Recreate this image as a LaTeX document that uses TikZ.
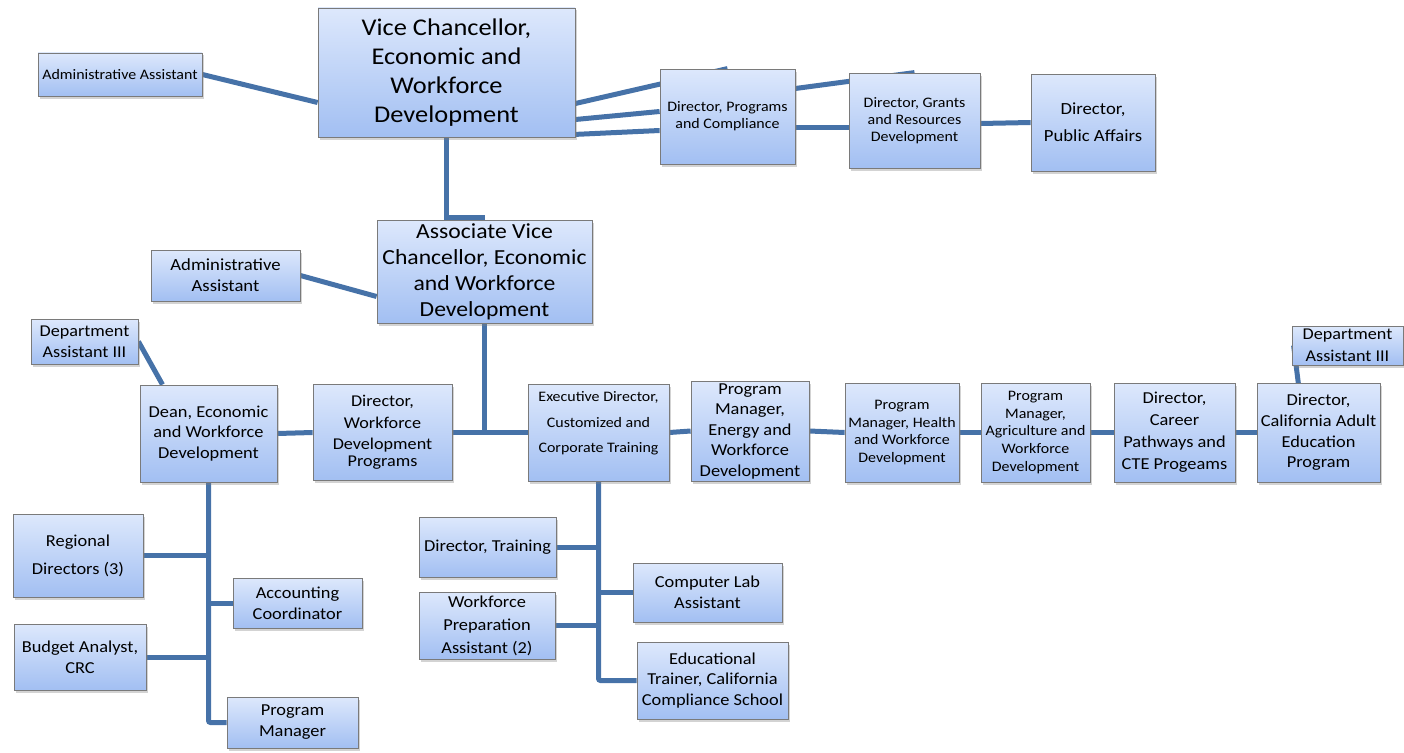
\documentclass[tikz,border=0pt]{standalone}
\usepackage{fontspec}
\setmainfont{Carlito}[FakeStretch=1.1]
\usetikzlibrary{shadows,backgrounds}
\definecolor{linkblue}{HTML}{4672A8}
\definecolor{boxtop}{HTML}{DDE8FC}
\definecolor{boxbot}{HTML}{A2BFF2}
\definecolor{boxline}{HTML}{7A7A7A}
\tikzset{
  box/.style={draw=boxline, line width=0.8pt, top color=boxtop, bottom color=boxbot,
    align=center, inner sep=0pt,
    drop shadow={shadow xshift=1.5pt, shadow yshift=-2.5pt, opacity=0.35}},
  sz/.style 2 args={minimum width=#1pt, minimum height=#2pt},
  fs/.style 2 args={font=\fontsize{#1}{#2}\selectfont},
  link/.style={draw=linkblue, line width=5pt}
}

\begin{document}
\begin{tikzpicture}[x=1pt,y=-1pt]
\path[use as bounding box] (0,0) rectangle (1404,752);

\node[box,sz={257}{129},fs={24}{29}] (vc) at (446.5,72.5) {Vice Chancellor,\\Economic and\\Workforce\\Development};
\node[box,sz={164}{43},fs={14.5}{17}] (aa1) at (120,74.5) {Administrative Assistant};
\node[box,sz={135}{95},fs={14.5}{17}] (dpc) at (727.5,116.5) {Director, Programs\\and Compliance};
\node[box,sz={131}{95},fs={14.5}{17}] (dgr) at (914.5,120.5) {Director, Grants\\and Resources\\Development};
\node[box,sz={124}{97},fs={17}{27}] (dpa) at (1093,122.5) {Director,\\Public Affairs};

\node[box,sz={215}{103},fs={21.5}{26}] (avc) at (484.5,271.5) {Associate Vice\\Chancellor, Economic\\and Workforce\\Development};
\node[box,sz={149}{51},fs={17}{21}] (aa2) at (225.5,275.5) {Administrative\\Assistant};

\node[box,sz={107}{45},fs={16.5}{21}] (dal) at (84.5,341.5) {Department\\Assistant III};
\node[box,sz={137}{97},fs={16.7}{20.5}] (dean) at (208.5,433.5) {Dean, Economic\\and Workforce\\Development};
\node[box,sz={139}{96},fs={16.5}{21.5}] (dwp) at (382.5,432.5) {Director,\\Workforce\\Development\\[-4.5pt]Programs};
\node[box,sz={141}{97},fs={14.5}{25.5}] (exd) at (598.5,432.5) {Executive Director,\\Customized and\\Corporate Training\\[-5pt]\mbox{}};
\node[box,sz={118}{100},fs={16.7}{20.5}] (pme) at (750,431) {Program\\Manager,\\Energy and\\Workforce\\Development};
\node[box,sz={114}{99},fs={14.5}{17.7}] (pmh) at (902,432.5) {Program\\Manager, Health\\and Workforce\\Development};
\node[box,sz={109}{99},fs={14.5}{17.7}] (pma) at (1035.5,432.5) {Program\\Manager,\\Agriculture and\\Workforce\\Development};
\node[box,sz={121}{99},fs={16.7}{22}] (dcp) at (1174.5,432.5) {Director,\\Career\\Pathways and\\CTE Progeams};
\node[box,sz={123}{99},fs={16.7}{20.7}] (cae) at (1318.5,432.5) {Director,\\California Adult\\Education\\Program};
\node[box,sz={111}{39},fs={16.5}{21.7}] (dar) at (1347.5,345.5) {Department\\Assistant III};

\node[box,sz={130}{83},fs={16.7}{28}] (rgd) at (78,555.5) {Regional\\Directors (3)};
\node[box,sz={129}{50},fs={16.7}{21}] (acc) at (297.5,603) {Accounting\\Coordinator};
\node[box,sz={132}{66},fs={16.7}{21}] (bud) at (80,657) {Budget Analyst,\\CRC};
\node[box,sz={131}{51},fs={16.7}{21}] (pgm) at (292.5,722.5) {Program\\Manager};

\node[box,sz={137}{60},fs={16.7}{21}] (dtr) at (487.5,547) {Director, Training};
\node[box,sz={136}{67},fs={16.7}{23}] (wpa) at (487,625.5) {Workforce\\Preparation\\Assistant (2)};
\node[box,sz={149}{59},fs={16.7}{21}] (cla) at (707.5,592.5) {Computer Lab\\Assistant};
\node[box,sz={151}{77},fs={16.7}{20.5}] (etr) at (712.5,680.5) {Educational\\Trainer, California\\Compliance School};

\begin{scope}[on background layer]
\draw[link] (vc.west) ++(0,30) -- (aa1.east);
\draw[link] (vc.south) |- ([yshift=2pt]avc.north);
\draw[link] (vc.east) ++(0,31) -- (dpc.north);
\draw[link] (vc.east) ++(0,47) -- ([yshift=5pt]dpc.west);
\draw[link] (dpc.west) ++(0,14) -- ([yshift=3pt]vc.south east);
\draw[link] (dpc.east) ++(0,-28) -- (dgr.north);
\draw[link] (dgr.west) ++(0,7) -- ([yshift=-11pt]dpc.east);
\draw[link] (dgr.east) ++(0,3) -- (dpa.west);
\draw[link] (avc.west) ++(0,25) -- (aa2.east);
\draw[link] (avc.south) -- (avc.south |- exd.west);
\draw[link] (dal.east) -- ([xshift=-46pt]dean.north);
\draw[link] (dean.east) -- (dwp.west);
\draw[link] (dwp.east) -- (exd.west);
\draw[link] (exd.east) -- (pme.west);
\draw[link] (pme.east) -- (pmh.west);
\draw[link] (pmh.east) -- (pma.west);
\draw[link] (pma.east) -- (dcp.west);
\draw[link] (dcp.east) -- (cae.west);
\draw[link] (cae.north) ++(-20,2) -- ([xshift=2pt]dar.west);
\draw[link,rounded corners=2pt] (dean.south) |- (pgm.west);
\draw[link] (rgd.east) -- (rgd.east -| dean.south);
\draw[link] (acc.west) -- (acc.west -| dean.south);
\draw[link] (bud.east) -- (bud.east -| dean.south);
\draw[link,rounded corners=2pt] (exd.south) |- (etr.west);
\draw[link] (dtr.east) -- (dtr.east -| exd.south);
\draw[link] (cla.west) -- (cla.west -| exd.south);
\draw[link] (wpa.east) -- (wpa.east -| exd.south);
\end{scope}
\end{tikzpicture}
\end{document}
